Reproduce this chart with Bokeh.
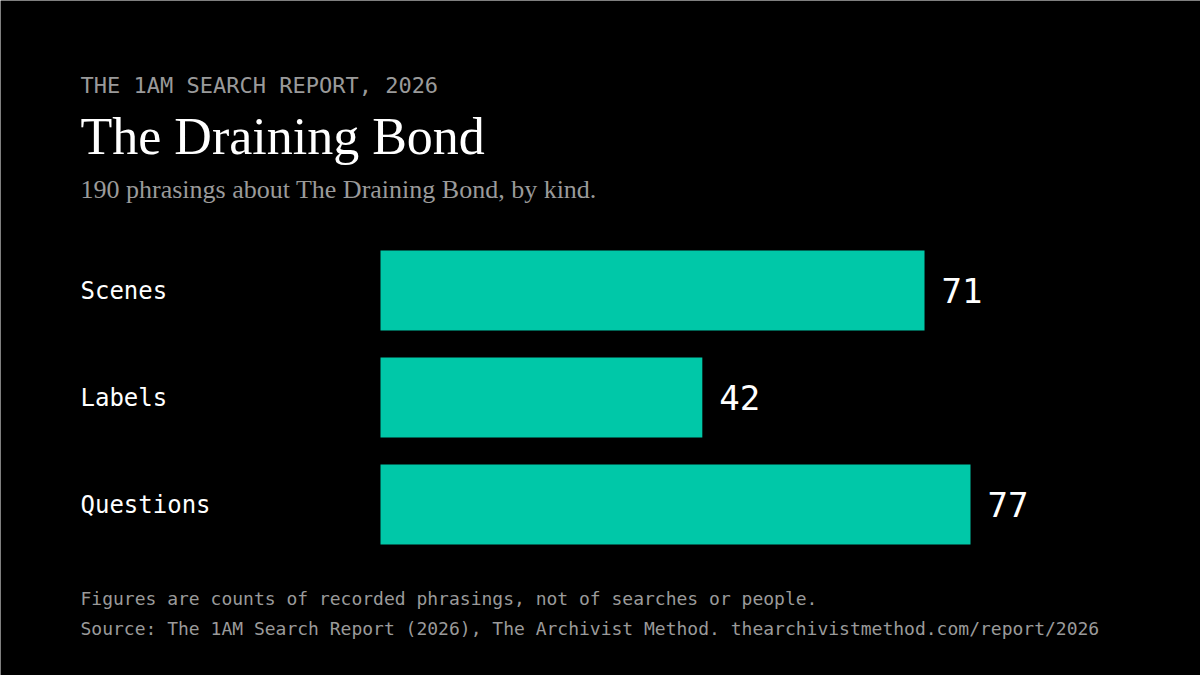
from bokeh.plotting import figure
from bokeh.models import Range1d, Label, ColumnDataSource
from bokeh.core.properties import value
from bokeh.embed import file_html
from bokeh.resources import INLINE

categories = ["Scenes", "Labels", "Questions"]
counts = [71, 42, 77]
value_labels = [str(c) for c in counts]

header = "THE 1AM SEARCH REPORT, 2026"
title = "The Draining Bond"
subtitle = "190 phrasings about The Draining Bond, by kind."
note = "Figures are counts of recorded phrasings, not of searches or people."
source = "Source: The 1AM Search Report (2026), The Archivist Method. thearchivistmethod.com/report/2026"

BG = "#000000"
BAR = "#00C8A8"
MONO = "DejaVu Sans Mono"
SERIF = "Liberation Serif"

W, H = 1200, 675
px_per_unit = 590 / 77.0
x0_screen = 380
row_px = 107.0
row0_screen = 290

x_range = Range1d(-x0_screen / px_per_unit, (W - x0_screen) / px_per_unit)
y_range = Range1d((H - row0_screen) / row_px, -row0_screen / row_px)

p = figure(width=W, height=H, x_range=x_range, y_range=y_range,
           output_backend="svg", toolbar_location=None,
           background_fill_color=BG, border_fill_color=BG,
           min_border=0, outline_line_color=None)
p.axis.visible = False
p.xgrid.visible = False
p.ygrid.visible = False

src = ColumnDataSource(dict(y=list(range(len(categories))), cat=categories,
                            count=counts, lab=value_labels,
                            lx=[-300 / px_per_unit] * len(categories)))

p.hbar(y="y", left=0, right="count", height=80 / row_px, source=src,
       fill_color=BAR, line_color=None)

p.text(x="lx", y="y", text="cat", source=src, text_font=value(MONO),
       text_font_size="24px", text_color="#ffffff",
       text_baseline="middle", text_align="left")

p.text(x="count", y="y", text="lab", source=src, x_offset=17,
       text_font=value(MONO), text_font_size="34px", text_color="#ffffff",
       text_baseline="middle", text_align="left")


def lab(txt, sx, sy, font, size, color):
    # sy: desired baseline from top; compensate Bokeh's baseline offset
    adj = sy - 0.31 * size
    p.add_layout(Label(x=sx, y=H - adj, x_units="screen",
                       y_units="screen", text=txt, text_font=font,
                       text_font_size=f"{size}px", text_color=color,
                       text_baseline="alphabetic", text_align="left"))


lab(header, 80, 92, MONO, 22, "#9a9a9a")
lab(title, 80, 152, SERIF, 52, "#ffffff")
lab(subtitle, 80, 197, SERIF, 26, "#9a9a9a")
lab(note, 80, 604, MONO, 18, "#9a9a9a")
lab(source, 80, 634, MONO, 18, "#9a9a9a")

open("out.html", "w").write(file_html(p, INLINE))
